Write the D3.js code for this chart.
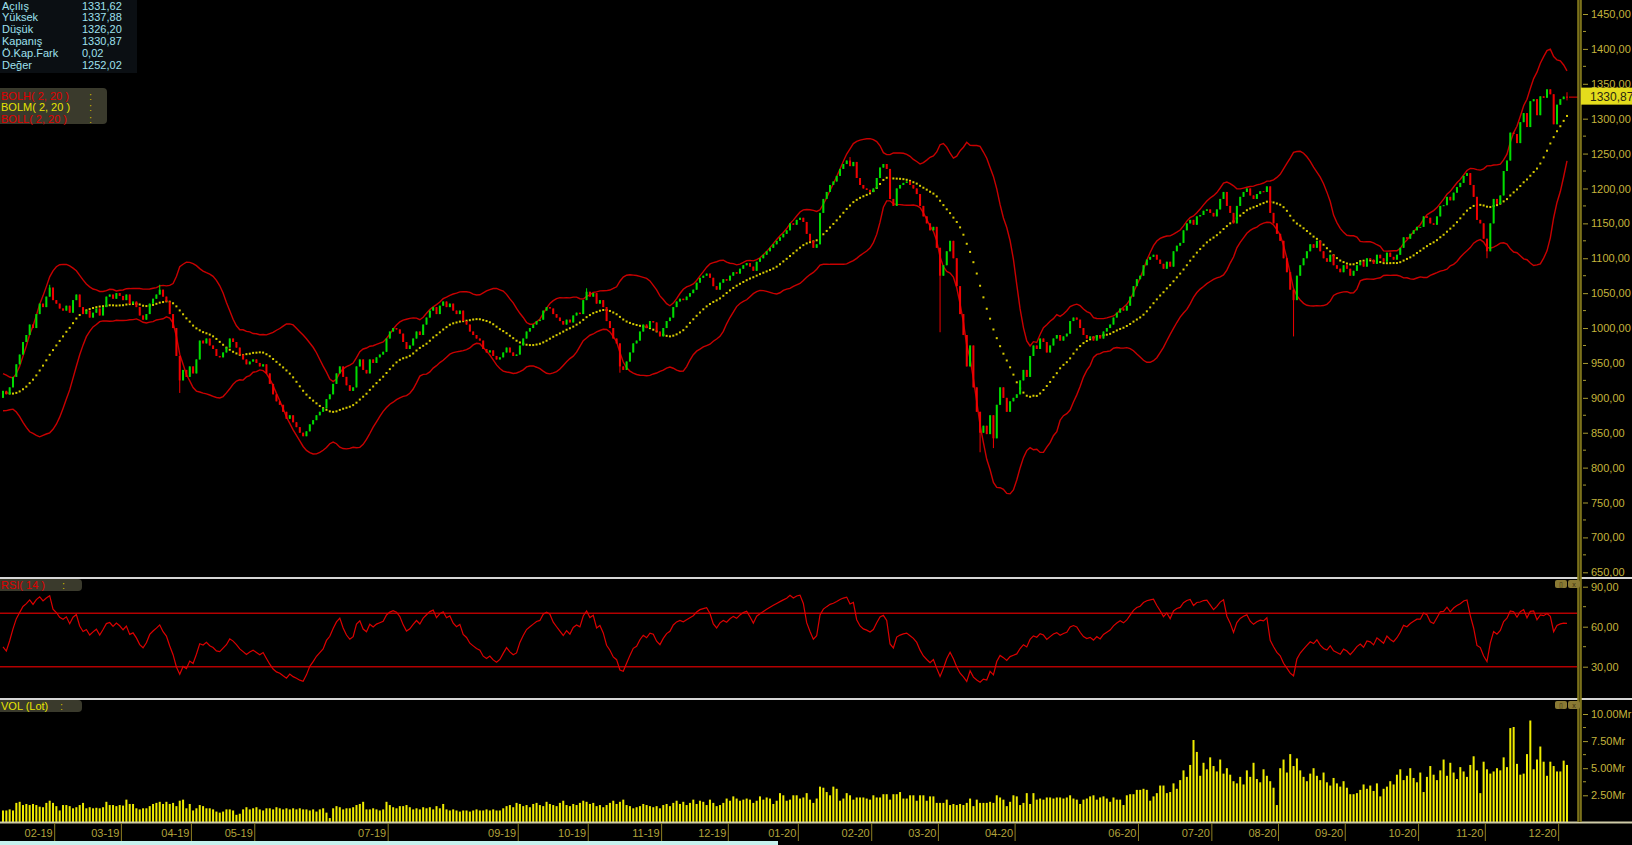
<!DOCTYPE html>
<html>
<head>
<meta charset="utf-8">
<script src="https://cdn.jsdelivr.net/npm/d3@7/dist/d3.min.js"></script>
<style>
  body { margin: 0; background: #000; }
  svg { display: block; font-family: "Liberation Sans", Arial, sans-serif; }
</style>
</head>
<body>
<svg id="chart" width="1632" height="845"></svg>
<script>
// Closes before the first drawn candle, only used to warm up BOLL(2,20) and RSI(14).
const priorCloses = [925, 930, 935, 928, 920, 918, 915, 905, 900, 898, 895, 890, 893, 900, 905, 902, 898, 895, 900];

// Daily closes (Jan 2019 -> early Dec 2020).
const closes = [
  910, 905, 915, 930, 948, 962, 980, 990, 1005, 1000,
  1020, 1035, 1030, 1045, 1058, 1040, 1035, 1028, 1025, 1032,
  1022, 1040, 1048, 1030, 1020, 1025, 1015, 1022, 1028, 1018,
  1030, 1045, 1048, 1042, 1050, 1046, 1040, 1048, 1035, 1038,
  1030, 1018, 1012, 1020, 1035, 1042, 1048, 1055, 1045, 1038,
  1020, 1000, 960, 925, 940, 930, 945, 935, 955, 982,
  978, 985, 975, 970, 960, 958, 965, 972, 985, 980,
  972, 962, 955, 948, 952, 955, 950, 945, 948, 935,
  920, 905, 895, 890, 880, 870, 875, 865, 858, 850,
  845, 852, 862, 868, 875, 880, 885, 898, 905, 920,
  935, 945, 930, 918, 910, 915, 945, 955, 940, 935,
  955, 950, 958, 962, 966, 985, 995, 1000, 998, 992,
  980, 970, 975, 985, 995, 990, 1005, 1015, 1025, 1030,
  1020, 1032, 1038, 1030, 1035, 1025, 1020, 1025, 1010, 1005,
  995, 990, 985, 982, 970, 965, 968, 960, 955, 958,
  965, 972, 965, 960, 962, 975, 985, 995, 1000, 1005,
  1010, 1012, 1025, 1030, 1028, 1020, 1015, 1010, 1005, 1012,
  1008, 1018, 1022, 1020, 1040, 1052, 1045, 1050, 1035, 1040,
  1030, 1010, 1000, 985, 978, 945, 940, 952, 965, 978,
  982, 995, 1005, 1000, 1010, 1008, 995, 988, 1000, 1010,
  1015, 1030, 1038, 1042, 1040, 1045, 1050, 1055, 1065, 1072,
  1075, 1078, 1072, 1060, 1055, 1065, 1070, 1068, 1075, 1080,
  1078, 1085, 1090, 1093, 1088, 1082, 1095, 1100, 1105, 1110,
  1115, 1120, 1125, 1130, 1135, 1140, 1150, 1148, 1155, 1158,
  1152, 1135, 1125, 1115, 1120, 1165, 1185, 1195, 1205, 1210,
  1218, 1228, 1235, 1240, 1232, 1238, 1215, 1205, 1200, 1198,
  1195, 1200, 1215, 1230, 1235, 1228, 1185, 1175, 1200, 1205,
  1208, 1210, 1205, 1200, 1192, 1175, 1160, 1150, 1140, 1145,
  1115, 1075, 1090, 1110, 1125, 1100, 1060, 1020, 990, 945,
  975, 915, 880, 850, 860, 848, 875, 842, 890, 915,
  900, 880, 895, 900, 905, 925, 940, 930, 960, 975,
  970, 985, 980, 965, 975, 985, 990, 982, 988, 992,
  1010, 1015, 1012, 1000, 990, 985, 988, 982, 990, 985,
  995, 1000, 1005, 1015, 1022, 1028, 1025, 1032, 1045, 1060,
  1070, 1075, 1090, 1098, 1102, 1105, 1098, 1092, 1085, 1095,
  1088, 1110, 1118, 1122, 1140, 1150, 1155, 1148, 1160, 1162,
  1168, 1170, 1165, 1160, 1170, 1185, 1195, 1175, 1165, 1150,
  1175, 1188, 1195, 1200, 1190, 1185, 1192, 1196, 1195, 1203,
  1165, 1150, 1135, 1125, 1100, 1080, 1055, 1040, 1075, 1090,
  1100, 1110, 1120, 1115, 1125, 1110, 1100, 1095, 1105, 1090,
  1085, 1080, 1090, 1085, 1075, 1082, 1090, 1095, 1088, 1100,
  1098, 1092, 1105, 1100, 1095, 1108, 1102, 1098, 1105, 1115,
  1130, 1128, 1135, 1140, 1145, 1145, 1160, 1158, 1150, 1148,
  1160, 1175, 1176, 1188, 1183, 1194, 1202, 1208, 1218, 1222,
  1205, 1188, 1155, 1150, 1128, 1110, 1150, 1185, 1178, 1190,
  1225, 1240, 1280, 1278, 1265, 1295, 1308, 1288, 1325, 1328,
  1305, 1332, 1330, 1342, 1335, 1292, 1320, 1328, 1331.62, 1330.87
];

// Wicks that stick out visibly beyond the body.
const wicks = [
  { i: 14, high: 1062 }, { i: 47, high: 1062 }, { i: 53, low: 907 },
  { i: 175, high: 1057 }, { i: 185, low: 936 }, { i: 254, high: 1245 },
  { i: 281, low: 994 }, { i: 293, low: 822 }, { i: 297, low: 828 },
  { i: 387, low: 988 }, { i: 445, low: 1100 },
  { i: 469, high: 1337.88, low: 1326.20 }
];

// Daily volume in Mr (billion lots).
const volumes = [
  1.1, 1.1, 1.2, 1.1, 1.8, 1.9, 1.6, 1.7, 1.6, 1.7,
  1.6, 1.45, 1.4, 1.8, 2.0, 1.8, 1.5, 1.1, 1.6, 1.6,
  1.5, 1.3, 1.4, 1.6, 1.8, 1.3, 1.4, 1.3, 1.35, 1.3,
  1.4, 1.9, 1.6, 1.6, 1.5, 1.6, 1.55, 2.1, 1.7, 1.7,
  1.3, 1.2, 1.3, 1.3, 1.5, 1.7, 1.8, 1.9, 1.7, 1.9,
  1.7, 1.8, 1.5, 2.0, 2.1, 1.3, 1.7, 1.1, 1.3, 1.6,
  1.5, 1.3, 1.3, 1.2, 1.0, 0.9, 1.0, 1.2, 1.2, 1.1,
  0.7, 0.8, 1.2, 1.4, 1.2, 1.3, 1.4, 1.2, 1.1, 1.3,
  1.3, 1.2, 1.4, 1.3, 1.2, 1.3, 1.2, 1.3, 1.2, 1.3,
  1.2, 1.2, 1.1, 1.2, 1.0, 1.2, 1.3, 0.9, 0.4, 1.3,
  1.5, 1.4, 1.2, 1.3, 1.3, 1.4, 1.6, 1.7, 1.9, 1.2,
  1.2, 1.3, 1.2, 1.1, 1.2, 1.9, 1.6, 1.4, 1.3, 1.5,
  1.5, 1.6, 1.4, 1.2, 1.3, 1.2, 1.4, 1.3, 1.4, 1.2,
  1.5, 1.3, 1.7, 1.2, 1.1, 1.2, 1.1, 1.0, 1.1, 1.1,
  1.0, 1.1, 1.2, 1.1, 1.1, 1.2, 1.1, 1.2, 1.1, 1.1,
  1.3, 1.5, 1.6, 1.4, 1.8, 1.7, 1.5, 1.6, 1.4, 1.7,
  1.8, 1.6, 1.5, 1.9, 1.7, 1.6, 1.5, 1.8, 2.0, 1.6,
  1.5, 1.7, 1.6, 1.8, 2.0, 1.9, 1.7, 1.8, 1.5, 1.6,
  1.4, 1.6, 1.8, 2.0, 1.7, 1.9, 2.1, 1.6, 1.5, 1.3,
  1.4, 1.5, 1.7, 1.6, 1.5, 1.4, 1.5, 1.3, 1.6, 1.7,
  1.5, 1.8, 2.0, 1.7, 1.9, 1.6, 1.8, 2.1, 1.7, 2.0,
  1.9, 1.6, 2.1, 1.8, 1.5, 1.6, 1.8, 2.2, 2.0, 2.4,
  2.2, 2.0, 2.1, 2.2, 2.1, 1.8, 2.0, 2.4, 2.1, 2.3,
  2.2, 1.7, 2.0, 2.7, 2.5, 2.0, 2.1, 2.5, 2.5, 2.2,
  2.3, 2.7, 2.1, 1.8, 2.2, 3.3, 3.2, 2.8, 2.5, 3.3,
  3.1, 2.0, 2.2, 2.7, 2.5, 2.1, 2.3, 2.3, 2.3, 2.2,
  2.1, 2.5, 2.3, 2.3, 2.6, 2.6, 2.1, 2.6, 2.6, 2.8,
  2.2, 2.2, 2.5, 2.5, 2.0, 2.5, 2.5, 2.0, 2.4, 2.4,
  1.8, 1.8, 1.8, 2.1, 1.6, 1.7, 1.6, 1.7, 1.6, 1.8,
  2.2, 1.5, 2.1, 1.8, 1.8, 1.8, 1.9, 1.8, 2.5, 2.3,
  2.1, 1.5, 1.9, 2.5, 2.4, 1.6, 1.8, 2.7, 1.7, 2.7,
  2.1, 2.2, 2.1, 2.3, 2.3, 2.2, 2.3, 2.3, 2.2, 2.3,
  2.5, 2.2, 2.1, 1.7, 2.1, 2.2, 2.4, 2.5, 2.1, 2.3,
  2.4, 2.2, 1.9, 2.3, 2.1, 2.1, 1.6, 2.5, 2.6, 2.6,
  3.0, 3.0, 3.1, 3.0, 2.0, 2.4, 2.7, 3.4, 3.4, 2.7,
  2.8, 3.6, 3.1, 3.9, 4.8, 4.2, 5.3, 7.6, 6.5, 4.3,
  5.5, 4.9, 6.0, 5.2, 4.7, 5.8, 4.5, 5.0, 4.4, 3.8,
  3.6, 4.2, 3.5, 4.8, 4.2, 5.5, 4.0, 3.7, 4.9, 4.3,
  3.8, 3.2, 1.6, 5.0, 5.8, 4.6, 6.3, 5.2, 5.9, 4.8,
  4.2, 3.8, 4.5, 5.0, 4.3, 3.9, 4.6, 3.7, 3.4, 4.1,
  3.6, 3.3, 3.8, 3.2, 2.6, 2.6, 2.7, 3.0, 3.5, 3.1,
  3.4, 2.9, 3.6, 2.4, 3.1, 3.3, 3.8, 3.5, 4.4, 4.9,
  3.9, 4.3, 5.0, 4.1, 3.7, 4.6, 2.8, 4.2, 5.2, 4.4,
  3.9, 4.8, 5.8, 4.3, 5.5, 4.6, 4.0, 5.1, 4.7, 4.2,
  5.3, 6.1, 4.8, 2.7, 5.6, 4.9, 4.5, 4.7, 5.0, 4.8,
  6.0, 5.1, 8.7, 8.8, 5.4, 4.4, 4.5, 6.3, 9.4, 4.9,
  5.8, 7.0, 5.6, 4.3, 5.6, 5.2, 4.7, 4.7, 5.7, 5.3
];

// Month labels and the candle index where each month starts.
const monthTicks = [
  { label: '02-19', idx: 16 }, { label: '03-19', idx: 36 }, { label: '04-19', idx: 57 },
  { label: '05-19', idx: 76 }, { label: '07-19', idx: 116 }, { label: '09-19', idx: 155 },
  { label: '10-19', idx: 176 }, { label: '11-19', idx: 198 }, { label: '12-19', idx: 218 },
  { label: '01-20', idx: 239 }, { label: '02-20', idx: 261 }, { label: '03-20', idx: 281 },
  { label: '04-20', idx: 304 }, { label: '06-20', idx: 341 }, { label: '07-20', idx: 363 },
  { label: '08-20', idx: 383 }, { label: '09-20', idx: 403 }, { label: '10-20', idx: 425 },
  { label: '11-20', idx: 445 }, { label: '12-20', idx: 467 }
];

const priceTicks = [650, 700, 750, 800, 850, 900, 950, 1000, 1050, 1100, 1150, 1200, 1250, 1300, 1350, 1400, 1450];
const rsiTicks = [30, 60, 90];
const volTicks = [2.5, 5, 7.5, 10];

const infoLabels = ['Açılış', 'Yüksek', 'Düşük', 'Kapanış', 'Ö.Kap.Fark', 'Değer'];
const infoValues = ['1331,62', '1337,88', '1326,20', '1330,87', '0,02', '1252,02'];
const bollLegend = [
  { text: 'BOLH( 2, 20 )', color: '#e00000' },
  { text: 'BOLM( 2, 20 )', color: '#e8e400' },
  { text: 'BOLL( 2, 20 )', color: '#e00000' }
];

const W = 1632, H = 845;
const axisX = 1578;
const olive = '#a89a30';
const oliveText = '#c4b43c';

const trLocale = d3.formatLocale({ decimal: ',', thousands: '.', grouping: [3], currency: ['', ''] });
const fmtPrice = trLocale.format('.2f');

const svg = d3.select('#chart');
svg.append('rect').attr('width', W).attr('height', H).attr('fill', '#000');

// Scales
const N = closes.length;
const x = d3.scaleLinear().domain([0, N - 1]).range([3, 1567]);
const yPrice = d3.scaleLinear().domain([650, 1450]).range([572.3, 14]);
const yRsi = d3.scaleLinear().domain([30, 90]).range([666.7, 586.7]);
const yVol = d3.scaleLinear().domain([0, 10]).range([822.4, 714]);

// Indicators
const all = priorCloses.concat(closes);
const P = priorCloses.length;

const boll = closes.map((c, i) => {
  const w = all.slice(i + P - 19, i + P + 1);
  const m = d3.mean(w);
  const sd = Math.sqrt(d3.mean(w, v => (v - m) * (v - m)));
  return { i, mid: m, up: m + 2 * sd, lo: m - 2 * sd };
});

const rsiAll = [];
let avgG = 0, avgL = 0;
for (let k = 1; k < all.length; k++) {
  const d = all[k] - all[k - 1];
  const g = Math.max(d, 0), l = Math.max(-d, 0);
  if (k <= 14) {
    avgG += g / 14; avgL += l / 14;
  } else {
    avgG = (avgG * 13 + g) / 14; avgL = (avgL * 13 + l) / 14;
  }
  if (k >= 14) rsiAll[k] = avgL === 0 ? 100 : 100 - 100 / (1 + avgG / avgL);
}
const rsi = closes.map((c, i) => ({ i, v: rsiAll[i + P] }));

// Clip paths for the three panels
const defs = svg.append('defs');
defs.append('clipPath').attr('id', 'clipMain').append('rect').attr('x', 0).attr('y', 0).attr('width', 1577).attr('height', 577);
defs.append('clipPath').attr('id', 'clipRsi').append('rect').attr('x', 0).attr('y', 579).attr('width', 1577).attr('height', 119);
defs.append('clipPath').attr('id', 'clipVol').append('rect').attr('x', 0).attr('y', 700).attr('width', 1577).attr('height', 122);

// ---------- main panel ----------
const main = svg.append('g').attr('clip-path', 'url(#clipMain)');

const bandLine = key => d3.line().x(d => x(d.i)).y(d => yPrice(d[key]));
main.append('path').datum(boll).attr('d', bandLine('up'))
  .attr('fill', 'none').attr('stroke', '#c80000').attr('stroke-width', 1.4);
main.append('path').datum(boll).attr('d', bandLine('lo'))
  .attr('fill', 'none').attr('stroke', '#c80000').attr('stroke-width', 1.4);

// middle band as dots
main.append('g').selectAll('rect').data(boll).join('rect')
  .attr('x', d => x(d.i) - 1).attr('y', d => yPrice(d.mid) - 1)
  .attr('width', 2).attr('height', 2).attr('fill', '#d8cc00');

const candles = closes.map((c, i) => {
  const o = i === 0 ? priorCloses[P - 1] : closes[i - 1];
  const w = wicks.find(d => d.i === i) || {};
  return {
    i, o, c,
    hi: w.high !== undefined ? w.high : Math.max(o, c),
    lo: w.low !== undefined ? w.low : Math.min(o, c)
  };
});
const candleColor = d => d.c >= d.o ? '#00dc00' : '#f00000';

main.append('g').selectAll('line').data(candles).join('line')
  .attr('x1', d => x(d.i)).attr('x2', d => x(d.i))
  .attr('y1', d => yPrice(d.hi)).attr('y2', d => yPrice(d.lo))
  .attr('stroke', candleColor).attr('stroke-width', 1);

main.append('g').selectAll('rect').data(candles).join('rect')
  .attr('x', d => x(d.i) - 1)
  .attr('y', d => yPrice(Math.max(d.o, d.c)))
  .attr('width', 2)
  .attr('height', d => Math.max(1, Math.abs(yPrice(d.o) - yPrice(d.c))))
  .attr('fill', candleColor);

// last price line + label
const last = closes[N - 1];
svg.append('line')
  .attr('x1', x(N - 1) + 2).attr('x2', axisX)
  .attr('y1', yPrice(last)).attr('y2', yPrice(last))
  .attr('stroke', '#d00000').attr('stroke-width', 1.2);

// ---------- RSI panel ----------
const rsiG = svg.append('g').attr('clip-path', 'url(#clipRsi)');
[70, 30].forEach(v => {
  rsiG.append('line').attr('x1', 0).attr('x2', 1577)
    .attr('y1', yRsi(v)).attr('y2', yRsi(v))
    .attr('stroke', '#b40000').attr('stroke-width', 1.5);
});
rsiG.append('path').datum(rsi)
  .attr('d', d3.line().x(d => x(d.i)).y(d => yRsi(d.v)))
  .attr('fill', 'none').attr('stroke', '#dc0000').attr('stroke-width', 1.2);

// ---------- volume panel ----------
const volG = svg.append('g').attr('clip-path', 'url(#clipVol)');
volG.selectAll('rect').data(volumes).join('rect')
  .attr('x', (d, i) => x(i) - 1)
  .attr('y', d => yVol(d))
  .attr('width', 2)
  .attr('height', d => yVol(0) - yVol(d))
  .attr('fill', '#f0ec00');

// ---------- separators / frame ----------
svg.append('rect').attr('x', 0).attr('y', 577).attr('width', W).attr('height', 2).attr('fill', '#d6d6d6');
svg.append('rect').attr('x', 0).attr('y', 698).attr('width', W).attr('height', 2).attr('fill', '#d6d6d6');
svg.append('rect').attr('x', 0).attr('y', 821.5).attr('width', W).attr('height', 2).attr('fill', '#cfcba8');

// right axis bar
svg.append('rect').attr('x', axisX - 0.5).attr('y', 0).attr('width', 4).attr('height', 822).attr('fill', '#4e480c');
svg.append('line').attr('x1', axisX).attr('x2', axisX).attr('y1', 0).attr('y2', 822).attr('stroke', '#a89a28');
svg.append('line').attr('x1', axisX + 3).attr('x2', axisX + 3).attr('y1', 0).attr('y2', 822).attr('stroke', '#a89a28');

// ---------- axes ----------
function styleAxis(g) {
  g.select('.domain').remove();
  g.selectAll('.tick line').attr('stroke', olive);
  g.selectAll('.tick text').attr('fill', oliveText).attr('font-size', '11px')
    .attr('font-family', '"Liberation Sans", Arial, sans-serif');
}
function minorTicks(values, scale) {
  svg.append('g').selectAll('line').data(values).join('line')
    .attr('x1', axisX + 5).attr('x2', axisX + 8)
    .attr('y1', d => scale(d)).attr('y2', d => scale(d))
    .attr('stroke', olive);
}

svg.append('g').attr('transform', `translate(${axisX + 5},0)`)
  .call(d3.axisRight(yPrice).tickValues(priceTicks).tickSize(5).tickPadding(3).tickFormat(fmtPrice))
  .call(styleAxis);
minorTicks(priceTicks.slice(0, -1).map(v => v + 25), yPrice);

svg.append('g').attr('transform', `translate(${axisX + 5},0)`)
  .call(d3.axisRight(yRsi).tickValues(rsiTicks).tickSize(5).tickPadding(3).tickFormat(fmtPrice))
  .call(styleAxis);
minorTicks([45, 75], yRsi);

svg.append('g').attr('transform', `translate(${axisX + 5},0)`)
  .call(d3.axisRight(yVol).tickValues(volTicks).tickSize(5).tickPadding(3).tickFormat(v => d3.format('.2f')(v) + 'Mr'))
  .call(styleAxis);
minorTicks([3.75, 6.25, 8.75], yVol);

// last price tag
svg.append('rect').attr('x', axisX + 3).attr('y', yPrice(last) - 9.5)
  .attr('width', W - axisX - 3).attr('height', 17).attr('fill', '#e4dc1c');
svg.append('text').attr('x', axisX + 12).attr('y', yPrice(last) + 3.5)
  .attr('fill', '#2a2810').attr('font-size', '12px').text(fmtPrice(last));

// month axis
const tickX = idx => (x(idx - 1) + x(idx)) / 2;
const xAxis = svg.append('g');
xAxis.selectAll('line').data(monthTicks).join('line')
  .attr('x1', d => tickX(d.idx)).attr('x2', d => tickX(d.idx))
  .attr('y1', 823).attr('y2', 841)
  .attr('stroke', '#8c7e22');
xAxis.selectAll('text').data(monthTicks).join('text')
  .attr('x', d => tickX(d.idx) - 2).attr('y', 837)
  .attr('text-anchor', 'end').attr('fill', '#b2a23a').attr('font-size', '11px')
  .text(d => d.label);

// bottom strip
svg.append('rect').attr('x', 0).attr('y', 841).attr('width', 778).attr('height', 4).attr('fill', '#c6f2ee');

// ---------- info box ----------
svg.append('rect').attr('x', 0).attr('y', 0).attr('width', 137).attr('height', 73).attr('fill', '#0b0f13');
const info = svg.append('g').attr('font-size', '11px').attr('fill', '#9ee0ee');
infoLabels.forEach((t, k) => {
  info.append('text').attr('x', 2).attr('y', 9.5 + k * 11.9).text(t);
  info.append('text').attr('x', 82).attr('y', 9.5 + k * 11.9).text(infoValues[k]);
});

// ---------- legends ----------
svg.append('rect').attr('x', -4).attr('y', 88).attr('width', 111).attr('height', 36).attr('rx', 4).attr('fill', '#3a3a2c');
bollLegend.forEach((d, k) => {
  svg.append('text').attr('x', 1).attr('y', 99.5 + k * 11.5).attr('font-size', '11px').attr('fill', d.color).text(d.text);
  svg.append('text').attr('x', 89).attr('y', 99.5 + k * 11.5).attr('font-size', '11px').attr('fill', '#c8b800').text(':');
});

svg.append('rect').attr('x', -4).attr('y', 579).attr('width', 86).attr('height', 12).attr('rx', 4).attr('fill', '#3a3a2c');
svg.append('text').attr('x', 1).attr('y', 589).attr('font-size', '11px').attr('fill', '#e00000').text('RSI( 14 )');
svg.append('text').attr('x', 62).attr('y', 589).attr('font-size', '11px').attr('fill', '#c8b800').text(':');

svg.append('rect').attr('x', -4).attr('y', 700).attr('width', 86).attr('height', 12).attr('rx', 4).attr('fill', '#3a3a2c');
svg.append('text').attr('x', 1).attr('y', 710).attr('font-size', '11px').attr('fill', '#e8e400').text('VOL (Lot)');
svg.append('text').attr('x', 60).attr('y', 710).attr('font-size', '11px').attr('fill', '#c8b800').text(':');

// panel buttons
[580, 701].forEach(y0 => {
  [1555, 1568].forEach((bx, k) => {
    svg.append('rect').attr('x', bx).attr('y', y0).attr('width', 12).attr('height', 8).attr('rx', 2).attr('fill', '#8a7a34');
    svg.append('text').attr('x', bx + 6).attr('y', y0 + 6.5).attr('text-anchor', 'middle')
      .attr('font-size', '7px').attr('fill', '#3a3212').text(k === 0 ? '▯' : 'x');
  });
});
</script>
</body>
</html>
